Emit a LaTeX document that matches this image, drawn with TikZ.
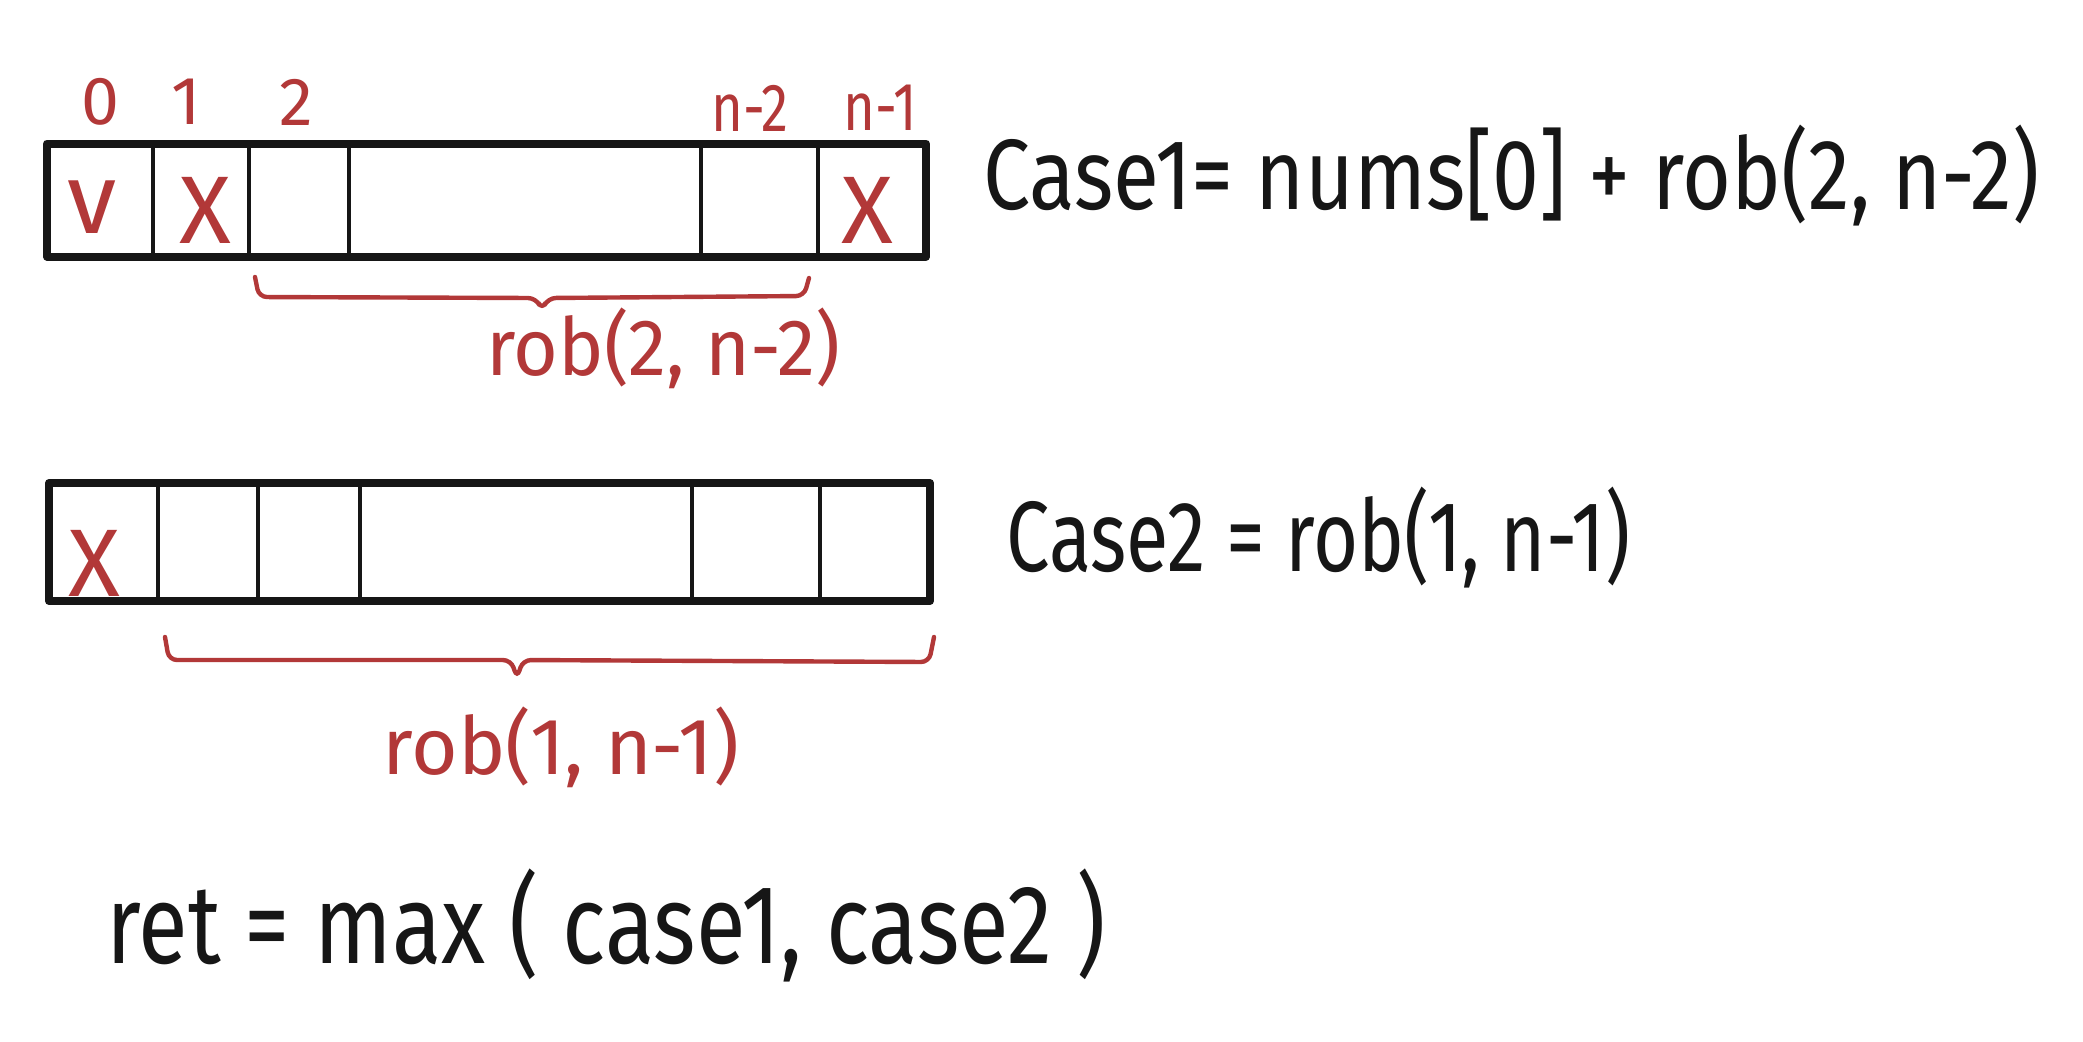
\documentclass[tikz,border=0pt]{standalone}
\usepackage{fontspec}
\setmainfont{Fira Sans}
\definecolor{pen}{RGB}{178,56,56}
\definecolor{ink}{RGB}{22,22,22}
\begin{document}
\begin{tikzpicture}[x=0.5pt,y=-0.5pt,
  outer/.style={draw=ink,line width=4pt,line join=round},
  inner/.style={draw=ink,line width=2.4pt},
  bracepath/.style={draw=pen,line width=2.2pt,rounded corners=4pt,line cap=round},
  idx/.style={text=pen,inner sep=0,font=\fontsize{34}{40}\selectfont},
  cellmark/.style={text=pen,inner sep=0,font=\fontsize{44}{50}\selectfont},
  redlabel/.style={text=pen,inner sep=0,font=\fontsize{40}{48}\selectfont},
  formula/.style={text=ink,inner sep=0,anchor=west,font=\fontsize{50}{60}\selectfont}]
\useasboundingbox[fill=white] (0,0) rectangle (2083,1041);

% ---- top array ----
\node[outer,rectangle,minimum width=879pt*0.5,minimum height=113pt*0.5,inner sep=0] (arrA) at (486.5,200) {};
\foreach \x in {153,249,349,701,818}
  \draw[inner] (\x,144) -- (\x,256);
\node[idx] (i0) at (100,102) {0};
\node[idx] (i1) at (186,102) {1};
\node[idx] (i2) at (296,102) {2};
\node[idx] (in2) at (750,108) {\scalebox{0.8}[1]{n-2}};
\node[idx] (in1) at (880,108) {\scalebox{0.8}[1]{n-1}};
\node[cellmark,font=\fontsize{50}{56}\selectfont] (mv) at (92,207) {v};
\node[cellmark,font=\fontsize{48}{54}\selectfont] (mx1) at (205,210) {X};
\node[cellmark,font=\fontsize{48}{54}\selectfont] (mx2) at (867,210) {X};
\draw[bracepath] (255,277) -- (259,297) -- (536,298) -- (542,310) -- (548,298) -- (804,296) -- (809,278);
\node[redlabel] (robA) at (663,348) {\scalebox{0.96}[1]{rob(2, n-2)}};

% ---- bottom array ----
\node[outer,rectangle,minimum width=881pt*0.5,minimum height=118pt*0.5,inner sep=0] (arrB) at (489.5,542) {};
\foreach \x in {158,258,360,692,820}
  \draw[inner] (\x,484) -- (\x,600);
\node[cellmark,font=\fontsize{48}{54}\selectfont] (mx3) at (94,563) {X};
\draw[bracepath] (165,637) -- (169,660) -- (511,660) -- (517,678) -- (523,660) -- (929,662) -- (934,637);
\node[redlabel] (robB) at (561,747) {\scalebox{1.0}[1]{rob(1, n-1)}};

% ---- formulas ----
\node[formula] (case1) at (983,176) {\scalebox{0.84}[1]{Case1= nums[0] + rob(2, n-2)}};
\node[formula] (case2) at (1006,538) {\scalebox{0.775}[1]{Case2 = rob(1, n-1)}};
\node[formula,font=\fontsize{56}{64}\selectfont] (ret) at (106,925) {\scalebox{0.81}[1]{ret = max ( case1, case2 )}};
\end{tikzpicture}
\end{document}
